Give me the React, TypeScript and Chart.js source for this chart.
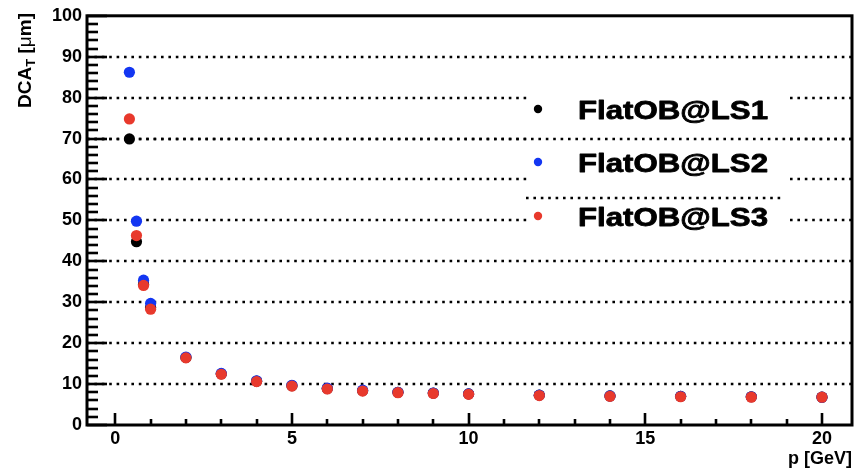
import React, { useEffect, useRef } from "react";
import { Chart, registerables } from "chart.js";

Chart.register(...registerables);

// ---- data ----
const momentum = [0.4, 0.6, 0.8, 1, 2, 3, 4, 5, 6, 7, 8, 9, 10, 12, 14, 16, 18, 20];
const dcaLS1 = [69.9, 44.8, 34.4, 28.7, 16.5, 12.5, 10.7, 9.6, 8.9, 8.4, 8.0, 7.8, 7.6, 7.3, 7.1, 7.0, 6.9, 6.8];
const dcaLS2 = [86.2, 49.8, 35.4, 29.7, 16.6, 12.6, 10.8, 9.7, 9.0, 8.5, 8.0, 7.8, 7.6, 7.3, 7.1, 7.0, 6.9, 6.8];
const dcaLS3 = [74.8, 46.3, 34.1, 28.3, 16.4, 12.4, 10.6, 9.5, 8.8, 8.3, 7.9, 7.7, 7.5, 7.2, 7.0, 6.9, 6.8, 6.8];
const seriesNames = ["FlatOB@LS1", "FlatOB@LS2", "FlatOB@LS3"];
const seriesColors = ["#000000", "#1336f2", "#e8392c"];
const xTickValues = [0, 5, 10, 15, 20];
const yGridValues = [10, 20, 30, 40, 50, 60, 70, 80, 90];
const xTitle = "p [GeV]";

const FONT = '"Liberation Sans", Arial, Helvetica, sans-serif';

const rootPlugin = {
  id: "rootStyle",
  beforeDatasetsDraw(chart: any) {
    const { ctx, chartArea: a, scales } = chart;
    const ys = scales.y;
    ctx.save();
    ctx.strokeStyle = "#000";
    ctx.lineWidth = 2.6;
    ctx.lineCap = "butt";
    const dotted = (x1: number, x2: number, y: number) => {
      ctx.setLineDash([2.6, 4.8]);
      ctx.beginPath();
      ctx.moveTo(x1, y);
      ctx.lineTo(x2, y);
      ctx.stroke();
    };
    for (const v of yGridValues) {
      dotted(a.left, a.right, Math.round(ys.getPixelForValue(v)));
    }
    // legend background (ROOT legend partly covering grid)
    ctx.setLineDash([]);
    ctx.fillStyle = "#fff";
    ctx.fillRect(527, 82, 261, 152);
    dotted(a.left, a.right, Math.round(ys.getPixelForValue(70)));
    dotted(526, 784, 198);
    ctx.restore();
  },
  afterDatasetsDraw(chart: any) {
    const { ctx, chartArea: a, scales } = chart;
    const xs = scales.x;
    const ys = scales.y;
    ctx.save();
    ctx.setLineDash([]);
    ctx.strokeStyle = "#000";
    ctx.lineCap = "butt";
    // ticks
    ctx.lineWidth = 2.6;
    for (let v = 0; v <= 100; v += 2) {
      const py = Math.round(ys.getPixelForValue(v));
      const len = v % 10 === 0 ? 20 : 11;
      ctx.beginPath();
      ctx.moveTo(a.left, py);
      ctx.lineTo(a.left + len, py);
      ctx.stroke();
    }
    for (let v = 0; v <= 20; v += 1) {
      const px = Math.round(xs.getPixelForValue(v));
      const len = v % 5 === 0 ? 12 : 6;
      ctx.beginPath();
      ctx.moveTo(px, a.bottom);
      ctx.lineTo(px, a.bottom - len);
      ctx.stroke();
    }
    // frame
    ctx.lineWidth = 3;
    ctx.strokeRect(a.left, a.top, a.right - a.left, a.bottom - a.top);

    // legend
    const baselines = [119, 172, 226];
    for (let i = 0; i < seriesNames.length; i++) {
      const b = baselines[i];
      ctx.fillStyle = seriesColors[i];
      ctx.beginPath();
      ctx.arc(538, b - 10, 4.2, 0, Math.PI * 2);
      ctx.fill();
      ctx.fillStyle = "#000";
      ctx.strokeStyle = "#000";
      ctx.lineWidth = 0.8;
      ctx.lineJoin = "round";
      ctx.font = `bold 26px ${FONT}`;
      ctx.textAlign = "left";
      ctx.textBaseline = "alphabetic";
      const w = ctx.measureText(seriesNames[i]).width;
      ctx.save();
      ctx.translate(578, b);
      ctx.scale(190 / w, 1);
      ctx.fillText(seriesNames[i], 0, 0);
      ctx.strokeText(seriesNames[i], 0, 0);
      ctx.restore();
    }

    // x title
    ctx.fillStyle = "#000";
    ctx.font = `bold 18px ${FONT}`;
    ctx.textAlign = "right";
    ctx.textBaseline = "alphabetic";
    ctx.fillText(xTitle, a.right, 464);

    // y title: DCA_T [μm]
    const parts = [
      { t: "DCA", f: `bold 19px ${FONT}`, dy: 0 },
      { t: "T", f: `bold 13px ${FONT}`, dy: 4 },
      { t: " [", f: `bold 19px ${FONT}`, dy: 0 },
      { t: "\u03bc", f: `19px ${FONT}`, dy: 0 },
      { t: "m]", f: `bold 19px ${FONT}`, dy: 0 },
    ];
    let total = 0;
    const widths: number[] = [];
    for (const p of parts) {
      ctx.font = p.f;
      const w = ctx.measureText(p.t).width;
      widths.push(w);
      total += w;
    }
    ctx.save();
    ctx.translate(31, 13);
    ctx.rotate(-Math.PI / 2);
    ctx.textAlign = "left";
    let cx = -total;
    parts.forEach((p, i) => {
      ctx.font = p.f;
      ctx.fillText(p.t, cx, p.dy);
      cx += widths[i];
    });
    ctx.restore();
    ctx.restore();
  },
};

export default function App() {
  const ref = useRef<HTMLCanvasElement | null>(null);
  useEffect(() => {
    document.body.style.margin = "0";
    const canvas = ref.current;
    if (!canvas) return;
    const mk = (vals: number[]) => momentum.map((x, i) => ({ x, y: vals[i] }));
    const allSeries = [dcaLS1, dcaLS2, dcaLS3];
    const chart = new Chart(canvas, {
      type: "scatter",
      data: {
        datasets: allSeries.map((vals, i) => ({
          label: seriesNames[i],
          data: mk(vals),
          order: allSeries.length - 1 - i,
          backgroundColor: seriesColors[i],
          borderColor: seriesColors[i],
          borderWidth: 0,
          pointRadius: 5.6,
          pointHoverRadius: 5.6,
        })),
      },
      options: {
        responsive: false,
        animation: false,
        devicePixelRatio: 1,
        layout: { padding: { top: 14, right: 9, left: 0, bottom: 0 } },
        plugins: {
          legend: { display: false },
          tooltip: { enabled: false },
          title: { display: false },
        },
        scales: {
          x: {
            type: "linear",
            min: -0.8,
            max: 20.85,
            afterBuildTicks: (s: any) => {
              s.ticks = xTickValues.map((v) => ({ value: v }));
            },
            afterFit: (s: any) => {
              s.height = 45;
            },
            grid: { display: false, drawTicks: false },
            border: { display: false },
            ticks: {
              padding: 3,
              color: "#000",
              autoSkip: false,
              maxRotation: 0,
              font: { family: FONT, size: 18, weight: "bold" },
            },
          },
          y: {
            type: "linear",
            min: 0,
            max: 100,
            afterFit: (s: any) => {
              s.width = 87;
            },
            grid: { display: false, drawTicks: false },
            border: { display: false },
            ticks: {
              stepSize: 10,
              padding: 5,
              color: "#000",
              font: { family: FONT, size: 18, weight: "bold" },
            },
          },
        },
      } as any,
      plugins: [rootPlugin],
    });
    return () => chart.destroy();
  }, []);
  return (
    <div style={{ width: 861, height: 470, background: "#fff" }}>
      <canvas ref={ref} width={861} height={470} style={{ display: "block" }} />
    </div>
  );
}
